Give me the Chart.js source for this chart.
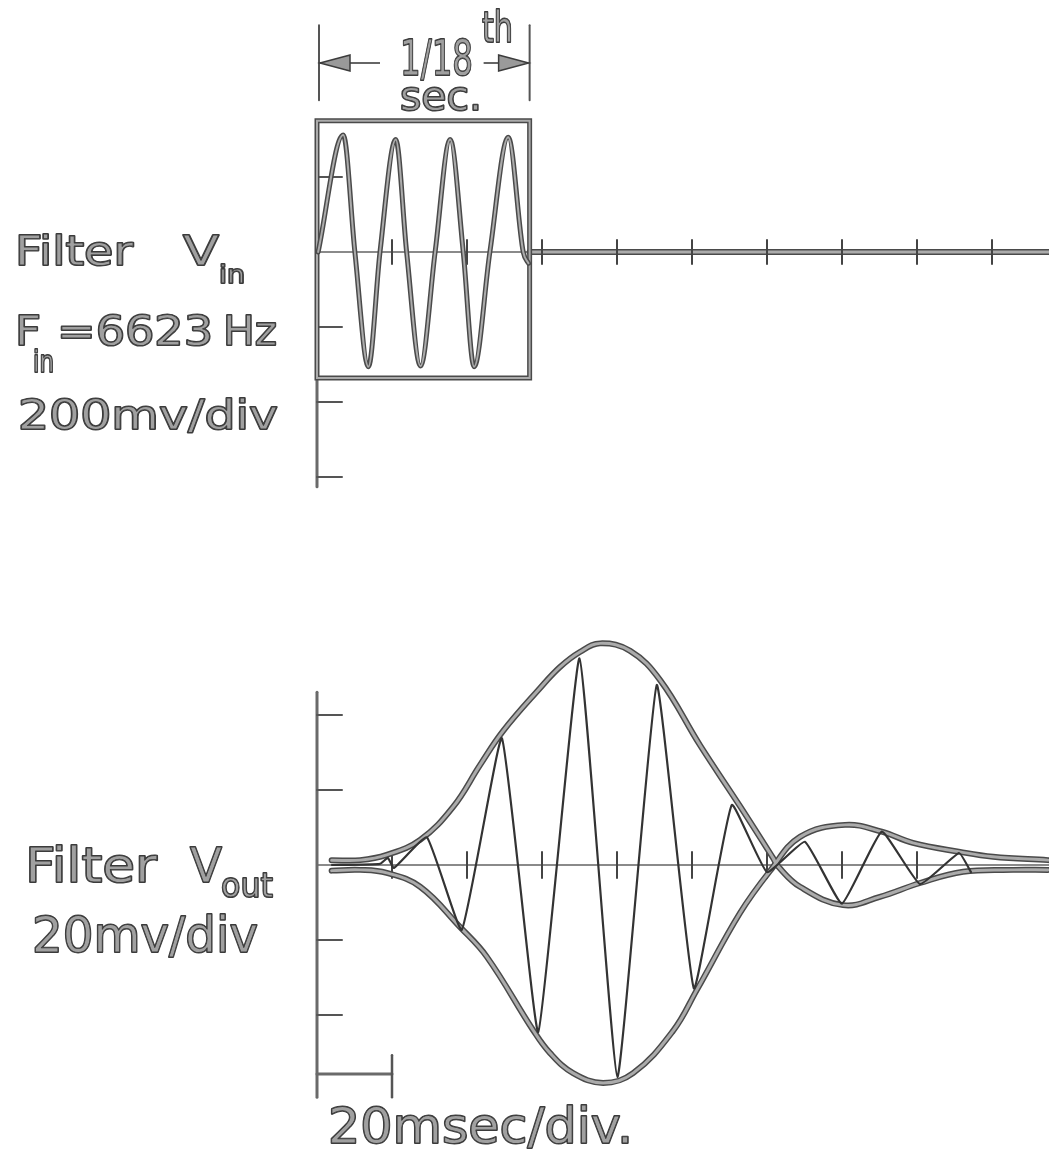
<!DOCTYPE html>
<html>
<head>
<meta charset="utf-8">
<title>Filter Vin / Vout</title>
<script src="https://cdn.jsdelivr.net/npm/chart.js@4.4.1/dist/chart.umd.min.js"></script>
<style>
  html, body { margin: 0; padding: 0; background: #fff; }
  #scope { display: block; }
</style>
</head>
<body>
<canvas id="scope" width="1049" height="1151"></canvas>
<script>
// time in msec, voltage in mV

// Filter Vin, 6623 Hz tone burst, 200 mV/div
const vinTime = [0.3, 7.0, 10.1, 13.7, 16.8, 21.0, 23.9, 27.6, 31.5, 35.5, 39.0, 41.9, 46.1, 51.0, 55.0, 56.4];
const vinMv = [0, 312, 0, -306, 0, 300, 0, -304, 0, 300, 0, -306, 0, 306, 0, -30];

// Filter Vout, 20 mV/div
const voutTime = [4.0, 16.8, 18.9, 20.5, 29.3, 38.6, 49.3, 59.0, 70.0, 80.1, 90.6, 100.5, 110.6, 120.0, 130.1, 140.0, 150.6, 160.8, 171.2, 174.4];
const voutMv = [0, 0.3, 1.9, -0.8, 7.4, -17.3, 33.8, -44.5, 55.1, -56.5, 48.0, -32.9, 16.0, -1.9, 6.2, -10.3, 8.9, -5.1, 3.2, -1.9];

// envelope drawn over the output (crosses zero near 122 msec)
const envUpperTime = [3.9, 11.5, 18.6, 27.5, 36.3, 43.5, 49.6, 59.5, 64.8, 70.1, 75.5, 83.5, 91.5, 102.1, 112.8, 121.6, 122.9, 128.8, 140.3, 150.1, 160.8, 172.3, 185.6, 194.9];
const envUpperMv = [1.3, 1.3, 2.7, 6.7, 15.5, 26.7, 35.7, 47.2, 52.8, 56.8, 59.1, 57.1, 49.3, 32.0, 15.7, 1.9, -0.3, -5.8, -10.7, -8.5, -4.8, -1.8, -1.3, -1.3];
const envLowerTime = [3.9, 11.5, 18.6, 27.5, 38.1, 45.3, 57.6, 62.1, 68.3, 76.3, 84.3, 94.9, 101.3, 112.8, 120.8, 128.8, 140.8, 150.6, 158.9, 171.5, 180.3, 194.9];
const envLowerMv = [-1.5, -1.3, -2.1, -5.8, -16.5, -24.5, -44.0, -50.1, -55.5, -58.1, -55.5, -44.3, -33.3, -12.8, -1.6, 7.5, 10.7, 8.9, 5.9, 3.5, 2.2, 1.3];

// graticule marks
const vinDivTicksMs = [20, 40, 60, 80, 100, 120, 140, 160, 180];
const vinAxisTicksMv = [200, -200, -400, -600];
const voutDivTicksMs = [20, 40, 60, 80, 100, 120, 140, 160];
const voutAxisTicksMv = [40, 20, -20, -40];

// 1/18th sec gate box on the input trace
const boxMs = [0, 56.7];
const boxMv = [-336, 350];
const bracketMv = [405, 605];
const arrowMv = 504;
const vinAxisMv = [350, -626];
const voutAxisMv = [46.1, -61.9];
const scaleBarMs = [0, 20];
const scaleBarMv = [-55.7, -50.7, -61.9];

// page geometry: 75 px per division on both traces
const PX_PER_DIV = 75;
const MS_PER_DIV = 20;
const W = 1049, H = 1151;
const ORIGIN_X = 317, VIN_ZERO_Y = 252, VOUT_ZERO_Y = 865;

const xMin = -ORIGIN_X / PX_PER_DIV * MS_PER_DIV;
const xMax = (W - ORIGIN_X) / PX_PER_DIV * MS_PER_DIV;
const vinMax = VIN_ZERO_Y / PX_PER_DIV * 200;
const vinMin = -(H - VIN_ZERO_Y) / PX_PER_DIV * 200;
const voutMax = VOUT_ZERO_Y / PX_PER_DIV * 20;
const voutMin = -(H - VOUT_ZERO_Y) / PX_PER_DIV * 20;

const INK = '#3c3c3c';
const DARK = '#4a4a4a';
const LIGHT = '#ababab';

const pts = (xs, ys) => xs.map((x, i) => ({ x, y: ys[i] }));

// pen traces are drawn as a dark outline with a lighter core
const outlined = (xs, ys, axis, width, extra = {}) => [
  { data: pts(xs, ys), yAxisID: axis, borderColor: DARK, borderWidth: width, order: 3, ...extra },
  { data: pts(xs, ys), yAxisID: axis, borderColor: LIGHT, borderWidth: width - 3, order: 2, ...extra },
];

function line(ctx, x1, y1, x2, y2, color, width) {
  ctx.beginPath();
  ctx.moveTo(x1, y1);
  ctx.lineTo(x2, y2);
  ctx.strokeStyle = color;
  ctx.lineWidth = width;
  ctx.stroke();
}

function outlinedPath(ctx, points, width, closed) {
  [[DARK, width], [LIGHT, width - 3]].forEach(([color, w]) => {
    ctx.beginPath();
    points.forEach(([px, py], i) => (i ? ctx.lineTo(px, py) : ctx.moveTo(px, py)));
    if (closed) ctx.closePath();
    ctx.strokeStyle = color;
    ctx.lineWidth = w;
    ctx.stroke();
  });
}

function label(ctx, str, x, y, size, width) {
  ctx.save();
  ctx.font = `${size}px "DejaVu Sans"`;
  const sx = width ? width / ctx.measureText(str).width : 1;
  ctx.translate(x, y);
  ctx.scale(sx, 1);
  ctx.fillStyle = '#a0a0a0';
  ctx.strokeStyle = INK;
  ctx.lineWidth = 2.1;
  ctx.lineJoin = 'round';
  ctx.strokeText(str, 0, 0);
  ctx.fillText(str, 0, 0);
  ctx.lineWidth = 0.8;
  ctx.strokeText(str, 0, 0);
  ctx.restore();
}

function arrowHead(ctx, tipX, y, dir) {
  ctx.beginPath();
  ctx.moveTo(tipX, y);
  ctx.lineTo(tipX + dir * 30, y - 8);
  ctx.lineTo(tipX + dir * 30, y + 8);
  ctx.closePath();
  ctx.fillStyle = '#9a9a9a';
  ctx.fill();
  ctx.strokeStyle = INK;
  ctx.lineWidth = 1.5;
  ctx.stroke();
}

const scopeDecor = {
  id: 'scopeDecor',
  beforeDatasetsDraw(chart) {
    const { ctx, scales } = chart;
    const x = scales.x, yIn = scales.yIn, yOut = scales.yOut;
    const x0 = x.getPixelForValue(0);
    ctx.save();
    ctx.lineCap = 'round';

    // input trace graticule
    const zIn = yIn.getPixelForValue(0);
    const boxL = x.getPixelForValue(boxMs[0]), boxR = x.getPixelForValue(boxMs[1]);
    const boxT = yIn.getPixelForValue(boxMv[1]), boxB = yIn.getPixelForValue(boxMv[0]);
    line(ctx, boxL, zIn, boxR, zIn, '#8a8a8a', 2);
    outlinedPath(ctx, [[boxR, zIn], [W, zIn]], 6, false);
    line(ctx, x0, boxB, x0, yIn.getPixelForValue(vinAxisMv[1]), '#6a6a6a', 3);
    vinAxisTicksMv.forEach(v => {
      const py = yIn.getPixelForValue(v);
      line(ctx, x0, py, x0 + 25, py, '#555', 2);
    });
    vinDivTicksMs.forEach(t => {
      const px = x.getPixelForValue(t);
      line(ctx, px, zIn - 12, px, zIn + 12, '#444', 2);
    });
    outlinedPath(ctx, [[boxL, boxT], [boxR, boxT], [boxR, boxB], [boxL, boxB]], 5, true);
    const bT = yIn.getPixelForValue(bracketMv[1]), bB = yIn.getPixelForValue(bracketMv[0]);
    line(ctx, boxL + 2, bT, boxL + 2, bB, '#555', 2);
    line(ctx, boxR, bT, boxR, bB, '#555', 2);

    // output trace graticule
    const zOut = yOut.getPixelForValue(0);
    line(ctx, x0, zOut, W, zOut, '#8a8a8a', 2);
    line(ctx, x0, yOut.getPixelForValue(voutAxisMv[0]), x0, yOut.getPixelForValue(voutAxisMv[1]), '#6a6a6a', 3);
    voutAxisTicksMv.forEach(v => {
      const py = yOut.getPixelForValue(v);
      line(ctx, x0, py, x0 + 25, py, '#555', 2);
    });
    voutDivTicksMs.forEach(t => {
      const px = x.getPixelForValue(t);
      line(ctx, px, zOut - 13, px, zOut + 13, '#444', 2);
    });
    const sbY = yOut.getPixelForValue(scaleBarMv[0]);
    const sbR = x.getPixelForValue(scaleBarMs[1]);
    line(ctx, x.getPixelForValue(scaleBarMs[0]), sbY, sbR, sbY, '#6a6a6a', 3);
    line(ctx, sbR, yOut.getPixelForValue(scaleBarMv[1]), sbR, yOut.getPixelForValue(scaleBarMv[2]), '#555', 2.5);
    ctx.restore();
  },
  afterDatasetsDraw(chart) {
    const { ctx, scales } = chart;
    const x = scales.x, yIn = scales.yIn;
    ctx.save();

    // 1/18th sec. bracket arrows
    const ay = yIn.getPixelForValue(arrowMv);
    const aL = x.getPixelForValue(boxMs[0]) + 3, aR = x.getPixelForValue(boxMs[1]) - 1;
    line(ctx, aL, ay, aL + 60, ay, '#666', 2);
    line(ctx, aR - 45, ay, aR, ay, '#666', 2);
    arrowHead(ctx, aL, ay, 1);
    arrowHead(ctx, aR, ay, -1);

    label(ctx, '1/18', 400, 75, 50, 73);
    label(ctx, 'th', 482, 42, 42, 31);
    label(ctx, 'sec.', 400, 110, 40, 82);

    label(ctx, 'Filter', 15, 265, 41, 118);
    label(ctx, 'V', 183, 265, 41, 36);
    label(ctx, 'in', 219, 283, 24, 26);
    label(ctx, 'F', 15, 345, 41, 26);
    label(ctx, 'in', 33, 372, 30, 21);
    label(ctx, '=6623', 57, 345, 41, 156);
    label(ctx, 'Hz', 223, 345, 41, 54);
    label(ctx, '200mv/div', 18, 429, 41, 260);

    label(ctx, 'Filter', 25, 882, 48, 132);
    label(ctx, 'V', 190, 882, 48, 32);
    label(ctx, 'out', 221, 897, 34, 52);
    label(ctx, '20mv/div', 32, 952, 50, 226);
    label(ctx, '20msec/div.', 328, 1143, 50, 305);
    ctx.restore();
  }
};

const datasets = [
  ...outlined(vinTime, vinMv, 'yIn', 5, { cubicInterpolationMode: 'monotone' }),
  ...outlined(envUpperTime, envUpperMv, 'yOut', 6, { tension: 0.4 }),
  ...outlined(envLowerTime, envLowerMv, 'yOut', 6, { tension: 0.4 }),
  { data: pts(voutTime, voutMv), yAxisID: 'yOut', borderColor: '#333', borderWidth: 2.2, tension: 0.12, order: 1 },
];

new Chart(document.getElementById('scope'), {
  type: 'scatter',
  data: { datasets },
  options: {
    responsive: false,
    animation: false,
    devicePixelRatio: 1,
    events: [],
    layout: { padding: 0 },
    elements: {
      point: { radius: 0 },
      line: { fill: false, borderCapStyle: 'round', borderJoinStyle: 'round' }
    },
    datasets: { scatter: { showLine: true } },
    plugins: { legend: { display: false }, tooltip: { enabled: false } },
    scales: {
      x: { type: 'linear', display: false, min: xMin, max: xMax, bounds: 'data' },
      yIn: { type: 'linear', display: false, min: vinMin, max: vinMax, bounds: 'data' },
      yOut: { type: 'linear', display: false, min: voutMin, max: voutMax, bounds: 'data' }
    }
  },
  plugins: [scopeDecor]
});
</script>
</body>
</html>
